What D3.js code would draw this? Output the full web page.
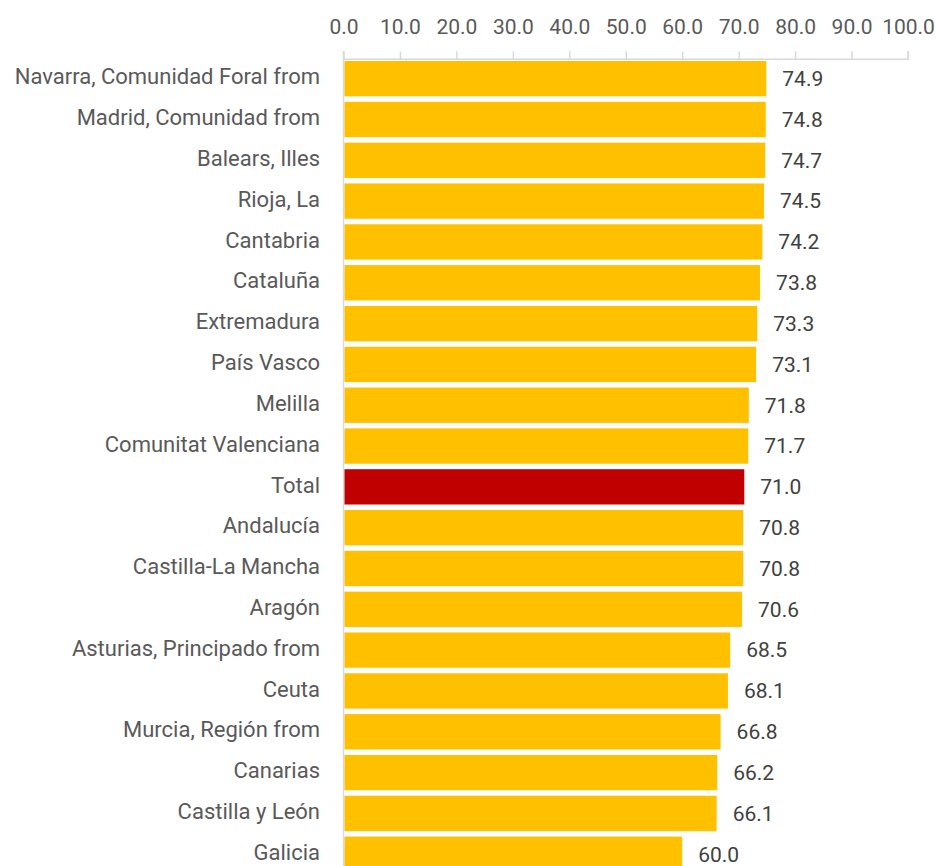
<!DOCTYPE html>
<html>
<head>
<meta charset="utf-8">
<script src="https://cdn.jsdelivr.net/npm/d3@7"></script>
<style>
  body { margin: 0; background: #fff; overflow: hidden; }
  svg text { font-family: Roboto, "Noto Sans", sans-serif; }
</style>
</head>
<body>
<div id="bar"></div>
<script>
// regions sorted as in the source chart
const regions = ["Navarra, Comunidad Foral from", "Madrid, Comunidad from", "Balears, Illes", "Rioja, La",
  "Cantabria", "Cataluña", "Extremadura", "País Vasco", "Melilla", "Comunitat Valenciana", "Total",
  "Andalucía", "Castilla-La Mancha", "Aragón", "Asturias, Principado from", "Ceuta",
  "Murcia, Región from", "Canarias", "Castilla y León", "Galicia"];
const values = [74.9, 74.8, 74.7, 74.5, 74.2, 73.8, 73.3, 73.1, 71.8, 71.7, 71.0,
  70.8, 70.8, 70.6, 68.5, 68.1, 66.8, 66.2, 66.1, 60.0];
const xTicks = [0, 10, 20, 30, 40, 50, 60, 70, 80, 90, 100];
const highlight = "Total";

const width = 937, height = 866;
const data = regions.map((r, i) => ({region: r, value: values[i]}));

const svg = d3.select("#bar").append("svg")
  .attr("width", width)
  .attr("height", height);

const x = d3.scaleLinear()
  .domain([0, 100])
  .range([343.5, 908]);

const step = 40.82;
const pad = 0.135;
const y = d3.scaleBand()
  .domain(regions)
  .range([59.3, 59.3 + step * (regions.length - pad)])
  .paddingInner(pad)
  .paddingOuter(0);

// top axis
const xAxis = d3.axisTop(x)
  .tickValues(xTicks)
  .tickSize(8)
  .tickPadding(17)
  .tickFormat(d3.format(".1f"));

const gx = svg.append("g")
  .attr("transform", "translate(0,59.3)")
  .call(xAxis);
gx.select(".domain").attr("stroke", "#d9d9d9").attr("stroke-width", 1.5)
  .attr("d", "M" + x(0) + ",-8V0H" + x(100) + "V-8");
gx.selectAll(".tick line").attr("stroke", "#d9d9d9").attr("stroke-width", 1.5);
gx.selectAll(".tick text")
  .attr("fill", "#595959")
  .style("font-size", "21px");

// left axis line
svg.append("line")
  .attr("x1", x(0)).attr("x2", x(0))
  .attr("y1", 59.3).attr("y2", height)
  .attr("stroke", "#d9d9d9")
  .attr("stroke-width", 1.5);

// bars
svg.selectAll("rect.bar")
  .data(data)
  .enter()
  .append("rect")
  .attr("class", "bar")
  .attr("x", x(0) + 1)
  .attr("y", d => y(d.region) + 1.7)
  .attr("width", d => x(d.value) - x(0) - 1)
  .attr("height", y.bandwidth())
  .attr("fill", d => d.region === highlight ? "#c00000" : "#ffc000");

// category labels
svg.selectAll("text.cat")
  .data(data)
  .enter()
  .append("text")
  .attr("class", "cat")
  .attr("x", 320)
  .attr("y", d => y(d.region) + 1.7 + y.bandwidth() / 2 - 2)
  .attr("dy", "0.35em")
  .attr("text-anchor", "end")
  .attr("fill", "#595959")
  .style("font-size", "22px")
  .text(d => d.region);

// value labels
svg.selectAll("text.val")
  .data(data)
  .enter()
  .append("text")
  .attr("class", "val")
  .attr("x", d => x(d.value) + 16)
  .attr("y", d => y(d.region) + 1.7 + y.bandwidth() / 2)
  .attr("dy", "0.35em")
  .attr("fill", "#404040")
  .style("font-size", "21px")
  .text(d => d3.format(".1f")(d.value));
</script>
</body>
</html>
